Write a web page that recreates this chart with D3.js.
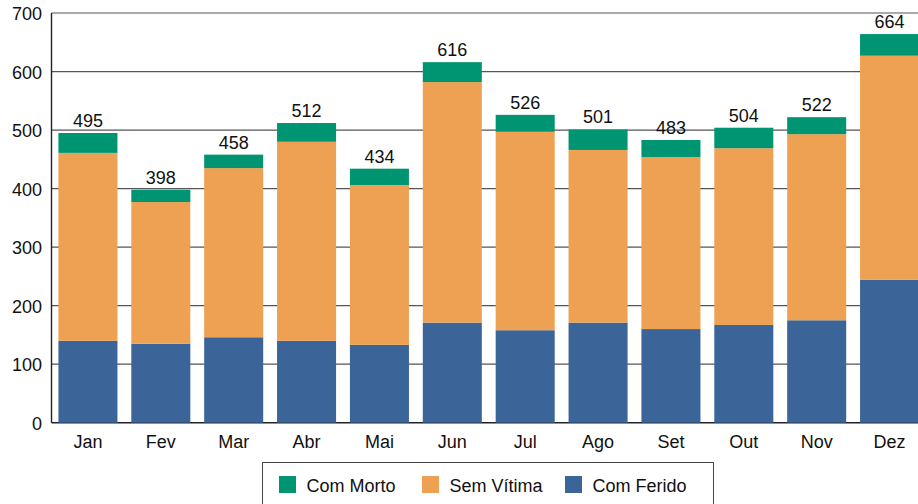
<!DOCTYPE html>
<html>
<head>
<meta charset="utf-8">
<script src="https://cdn.jsdelivr.net/npm/d3@7"></script>
<style>
  body { margin: 0; background: #fff; }
  svg { font-family: "Liberation Sans", Arial, sans-serif; }
</style>
</head>
<body>
<section id="grafico"></section>
<script>
const meses = ["Jan","Fev","Mar","Abr","Mai","Jun","Jul","Ago","Set","Out","Nov","Dez"];
const comFerido = [140,135,146,140,133,171,158,171,160,167,175,244];
const semVitima = [321,242,289,340,273,411,339,295,294,302,318,383];
const comMorto  = [34,21,23,32,28,34,29,35,29,35,29,37];
const yTicks = [0,100,200,300,400,500,600,700];

const series = [
  {nome: "Com Ferido", cor: "#3b6598", vals: comFerido},
  {nome: "Sem Vítima", cor: "#eea152", vals: semVitima},
  {nome: "Com Morto", cor: "#009572", vals: comMorto}
];

const width = 918;
const height = 504;
const mLeft = 51.5, mRight = 926, mTop = 13, mBottom = 422.7;
const fs = 18;

const svg = d3.select("section#grafico")
  .append("svg")
  .attr("width", width)
  .attr("height", height);

const xScale = d3.scaleBand()
  .domain(meses)
  .range([mLeft, mRight])
  .paddingInner(0.19)
  .paddingOuter(0.095);

const yScale = d3.scaleLinear()
  .domain([0, 700])
  .range([mBottom, mTop]);

// grid
svg.append("g")
  .selectAll("line")
  .data(yTicks)
  .enter()
  .append("line")
  .attr("x1", mLeft)
  .attr("x2", width)
  .attr("y1", d => yScale(d))
  .attr("y2", d => yScale(d))
  .attr("stroke", d => d == 0 ? "#222" : "#555")
  .attr("stroke-width", d => d == 0 ? 1.6 : 1.2);

// stacked bars
const stack = d3.stack().keys([0,1,2]).value((d, k) => series[k].vals[d]);
const stacked = stack(d3.range(meses.length));

svg.selectAll("g.serie")
  .data(stacked)
  .enter()
  .append("g")
  .attr("class", "serie")
  .attr("fill", (d, i) => series[i].cor)
  .selectAll("rect")
  .data(d => d)
  .enter()
  .append("rect")
  .attr("x", (d, i) => xScale(meses[i]))
  .attr("y", d => yScale(d[1]))
  .attr("width", xScale.bandwidth())
  .attr("height", d => yScale(d[0]) - yScale(d[1]));

// left axis line
svg.append("line")
  .attr("x1", mLeft).attr("x2", mLeft)
  .attr("y1", mTop).attr("y2", mBottom)
  .attr("stroke", "#222").attr("stroke-width", 1.4);

// y labels
svg.append("g")
  .selectAll("text")
  .data(yTicks)
  .enter()
  .append("text")
  .attr("x", 42)
  .attr("y", d => yScale(d) + 7)
  .attr("text-anchor", "end")
  .attr("font-size", fs)
  .attr("fill", "#111")
  .text(d => d);

// x labels
svg.append("g")
  .selectAll("text")
  .data(meses)
  .enter()
  .append("text")
  .attr("x", d => xScale(d) + xScale.bandwidth()/2)
  .attr("y", 448)
  .attr("text-anchor", "middle")
  .attr("font-size", fs)
  .attr("fill", "#111")
  .text(d => d);

// totals
svg.append("g")
  .selectAll("text")
  .data(meses)
  .enter()
  .append("text")
  .attr("x", d => xScale(d) + xScale.bandwidth()/2)
  .attr("y", (d, i) => yScale(comFerido[i] + semVitima[i] + comMorto[i]) - 6)
  .attr("text-anchor", "middle")
  .attr("font-size", fs)
  .attr("fill", "#111")
  .text((d, i) => comFerido[i] + semVitima[i] + comMorto[i]);

// legend
const legenda = svg.append("g");
legenda.append("rect")
  .attr("x", 262.5).attr("y", 462.5)
  .attr("width", 451).attr("height", 50)
  .attr("fill", "#fff").attr("stroke", "#444").attr("stroke-width", 1);

const legItens = [
  {s: series[2], x: 279},
  {s: series[1], x: 422},
  {s: series[0], x: 565}
];
const li = legenda.selectAll("g.item")
  .data(legItens)
  .enter()
  .append("g")
  .attr("class", "item");
li.append("rect")
  .attr("x", d => d.x).attr("y", 476)
  .attr("width", 17).attr("height", 17)
  .attr("fill", d => d.s.cor);
li.append("text")
  .attr("x", d => d.x + 27.5).attr("y", 492)
  .attr("font-size", fs)
  .attr("fill", "#111")
  .text(d => d.s.nome);
</script>
</body>
</html>
